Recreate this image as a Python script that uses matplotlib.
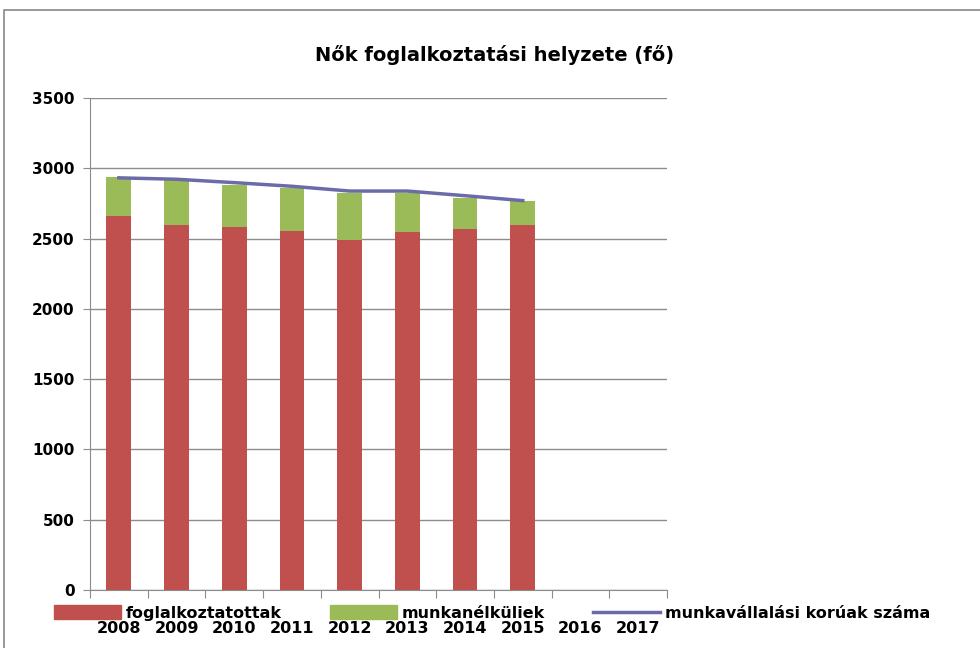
import matplotlib
matplotlib.use("Agg")
import matplotlib.pyplot as plt
from matplotlib.patches import Rectangle, Patch
from matplotlib.lines import Line2D

years = ["2008", "2009", "2010", "2011", "2012", "2013", "2014", "2015", "2016", "2017"]
employed = [2660, 2595, 2580, 2556, 2491, 2544, 2569, 2595]
unemployed = [275, 325, 304, 305, 335, 282, 223, 169]
working_age = [2932, 2922, 2898, 2872, 2838, 2838, 2805, 2770]

red = "#C0504D"
green = "#9BBB59"
purple = "#6B6BAA"

plt.rcParams['font.family'] = ['DejaVu Sans']
fig = plt.figure(figsize=(9.8, 6.48), dpi=100)
ax = fig.add_axes([90/980, 58/648, 577/980, 492/648])

n = len(employed)
x = list(range(n))
ax.bar(x, employed, width=0.43, color=red, zorder=3)
ax.bar(x, unemployed, width=0.43, bottom=employed, color=green, zorder=3)
ax.plot(x, working_age, color=purple, lw=2.5, zorder=4)

ax.set_xlim(-0.5, len(years) - 0.5)
ax.set_ylim(0, 3500)
ax.set_yticks(range(0, 3501, 500))
ax.set_yticklabels([str(v) for v in range(0, 3501, 500)], fontsize=11, fontweight='bold')
ax.yaxis.grid(True, color='#8c8c8c', lw=1, zorder=0)
ax.set_axisbelow(True)

ax.set_xticks([i + 0.5 for i in range(-1, len(years))], minor=False)
ax.set_xticklabels([])
ax.tick_params(axis='x', length=6, color='#8c8c8c', direction='out')
ax.tick_params(axis='y', length=5, color='#8c8c8c', direction='out', pad=6)
for i, yr in enumerate(years):
    ax.text(i, -0.078, yr, transform=ax.get_xaxis_transform(), ha='center', va='center',
            fontsize=11.5, fontweight='bold')

for s in ['top', 'right']:
    ax.spines[s].set_visible(False)
ax.spines['left'].set_color('#8c8c8c')
ax.spines['bottom'].set_color('#8c8c8c')

fig.text(495/980, 1 - 55/648, "Nők foglalkoztatási helyzete (fő)", ha='center', va='center',
         fontsize=14, fontweight='bold')

handles = [Patch(color=red), Patch(color=green), Line2D([0], [0], color=purple, lw=2.5)]
labels = ["foglalkoztatottak", "munkanélküliek", "munkavállalási korúak száma"]
fig.legend(handles, labels, loc='center', bbox_to_anchor=(492/980, 1 - 613/648), ncol=3,
           frameon=False, prop={'size': 11.5, 'weight': 'bold'}, handlelength=4.2,
           handleheight=0.9, columnspacing=3.0, handletextpad=0.3)

fig.patches.append(Rectangle((4/980, -0.02), 1.0, 1 - 10/648 + 0.02, transform=fig.transFigure,
                             fill=False, edgecolor='#888888', lw=1.2))

fig.savefig("out.png", dpi=100)
